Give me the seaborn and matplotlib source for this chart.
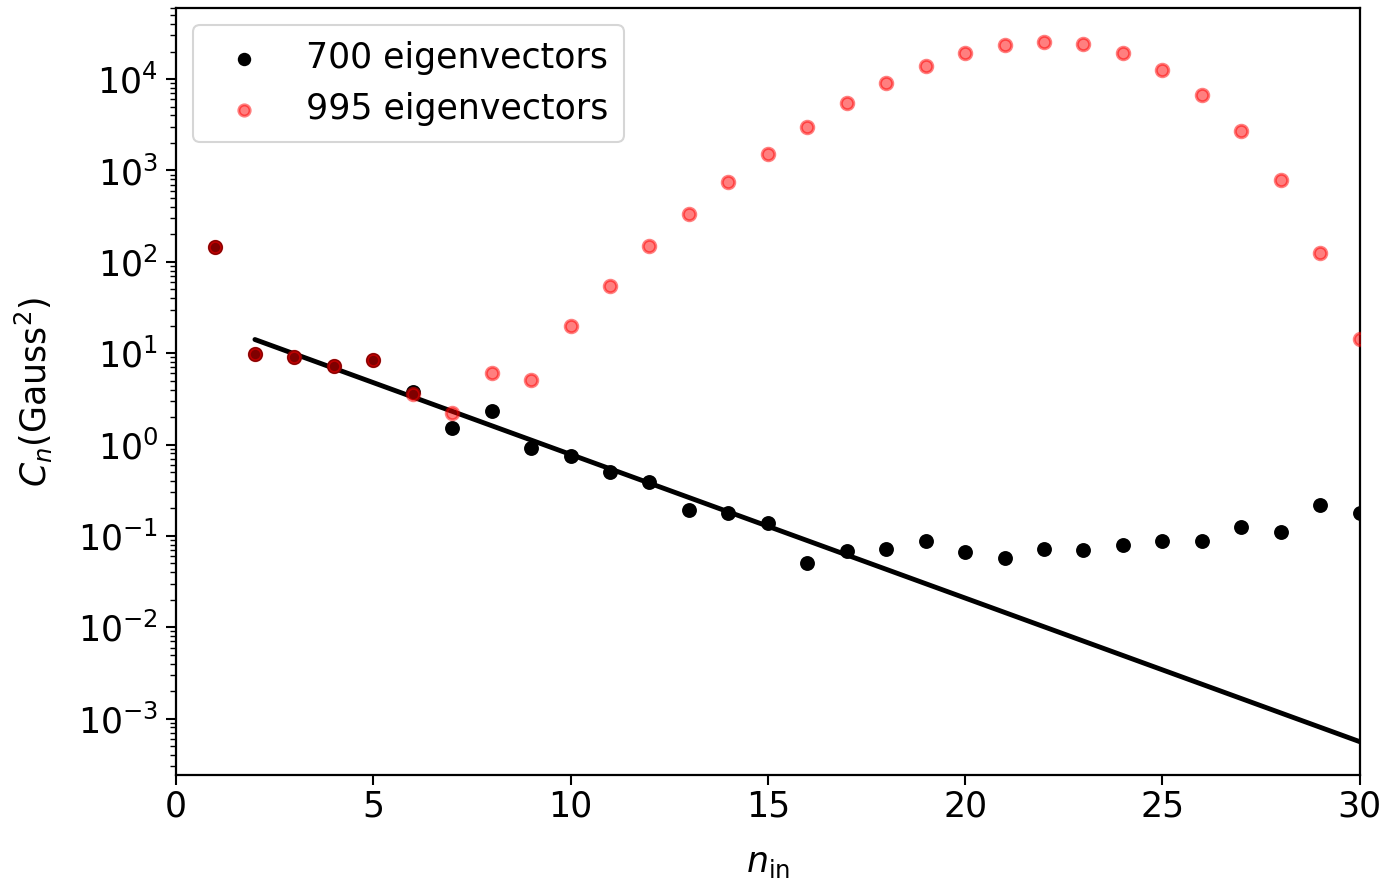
import matplotlib
matplotlib.use("Agg")
import matplotlib.pyplot as plt
import seaborn as sns
import pandas as pd
import numpy as np

# --- data ---
n_in = list(range(1, 31))
c_700 = [145, 9.7, 9.0, 7.2, 8.5, 3.8, 1.5, 2.3, 0.91, 0.74,
         0.50, 0.39, 0.19, 0.18, 0.137, 0.050, 0.068, 0.071, 0.087, 0.066,
         0.057, 0.072, 0.070, 0.079, 0.087, 0.089, 0.124, 0.109, 0.22, 0.177]
c_995 = [145, 9.7, 9.0, 7.2, 8.5, 3.6, 2.2, 6.0, 5.1, 19.7,
         54, 148, 330, 740, 1510, 2960, 5500, 9000, 13900, 19300,
         23600, 25400, 24200, 19300, 12500, 6700, 2700, 780, 124, 14.2]
fit_n = [2, 30]
fit_c = [14.1, 5.6e-4]

df700 = pd.DataFrame({"n": n_in, "C": c_700})
df995 = pd.DataFrame({"n": n_in, "C": c_995})
dffit = pd.DataFrame({"n": fit_n, "C": fit_c})

sns.set_style("ticks")
plt.rcParams["font.family"] = ["DejaVu Sans"]
plt.rcParams["mathtext.fontset"] = "dejavusans"
for k in ["text.color", "axes.labelcolor", "xtick.color", "ytick.color", "axes.edgecolor"]:
    plt.rcParams[k] = "black"

fig = plt.figure(figsize=(13.86, 8.85), dpi=100)
ax = fig.add_axes([0.127, 0.124, 0.854, 0.867])

sns.scatterplot(data=df700, x="n", y="C", ax=ax, color="black", s=115,
                edgecolor="black", linewidth=0, label="700 eigenvectors", zorder=3)
sns.scatterplot(data=df995, x="n", y="C", ax=ax, color="red", s=80, alpha=0.5,
                edgecolor="red", linewidth=2.2, label="995 eigenvectors", zorder=4)
sns.lineplot(data=dffit, x="n", y="C", ax=ax, color="black", linewidth=3.5, zorder=2)

ax.set_yscale("log")
ax.set_xlim(0, 30)
ax.set_ylim(2.4e-4, 6.0e4)
ax.set_yticks([1e-3, 1e-2, 1e-1, 1e0, 1e1, 1e2, 1e3, 1e4])
ax.yaxis.set_minor_locator(matplotlib.ticker.LogLocator(base=10, subs=np.arange(2, 10), numticks=20))
ax.yaxis.set_minor_formatter(matplotlib.ticker.NullFormatter())

for sp in ax.spines.values():
    sp.set_visible(True)
    sp.set_linewidth(1.6)
    sp.set_color("black")

ax.tick_params(axis="both", which="major", labelsize=25, length=7, width=1.5,
               direction="out", color="black", labelcolor="black")
ax.tick_params(axis="y", which="major", pad=6)
ax.tick_params(axis="y", which="minor", length=4, width=1.0, color="black")

ax.set_xlabel(r"$n_{\rm in}$", fontsize=25, color="black", labelpad=16)
ax.set_ylabel(r"$C_n$(Gauss$^2$)", fontsize=25, color="black", labelpad=16)

leg = ax.legend(loc="upper left", fontsize=25, frameon=True, handletextpad=0.8,
                borderpad=0.45, markerscale=0.9)
leg.get_frame().set_edgecolor("#cccccc")
leg.get_frame().set_linewidth(1.5)
for t in leg.get_texts():
    t.set_color("black")

fig.savefig("out.png", dpi=100)
